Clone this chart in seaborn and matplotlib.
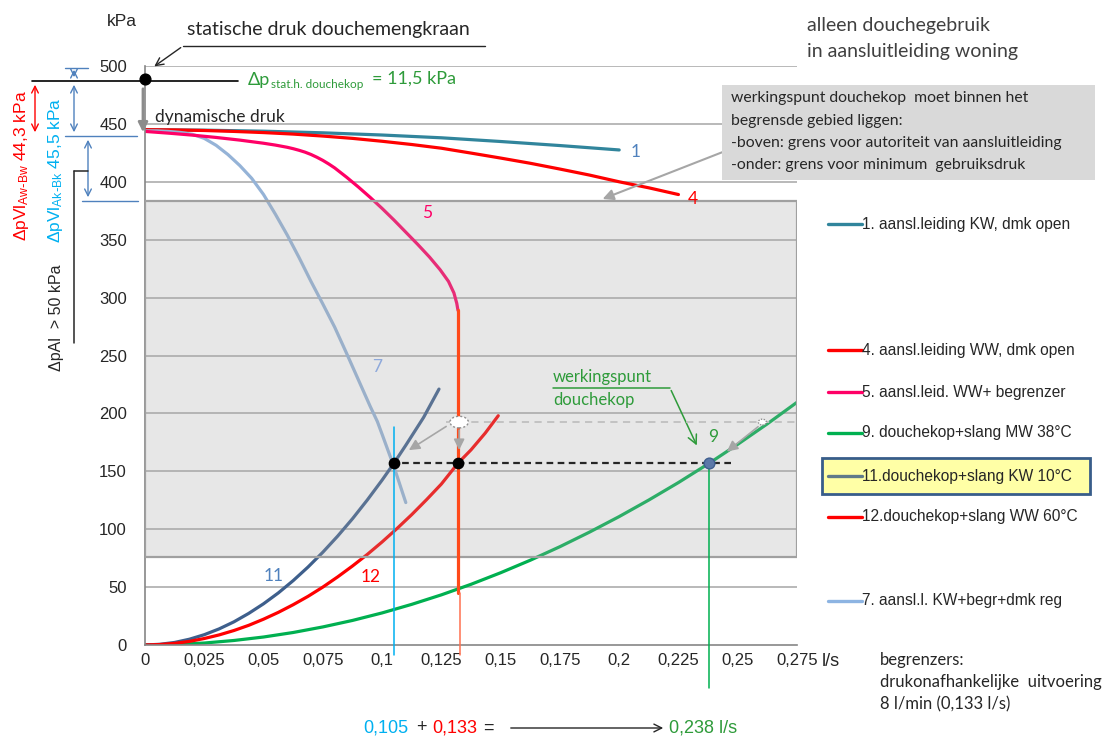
import matplotlib
matplotlib.use("Agg")
import matplotlib.pyplot as plt
from matplotlib.patches import Rectangle, Ellipse
from matplotlib.lines import Line2D
import seaborn as sns

# ---- curve readings: flow q in l/s, pressure p in kPa ----
q_kw_open = [0, 0.025, 0.05, 0.075, 0.1, 0.125, 0.15, 0.175, 0.2]
p_kw_open = [445, 444.6, 443.7, 442.3, 440.4, 438, 434.8, 431.3, 427.5]

q_ww_open = [0, 0.0125, 0.025, 0.0375, 0.05, 0.0625, 0.075, 0.0875, 0.1, 0.1125,
             0.125, 0.1375, 0.15, 0.1625, 0.175, 0.1875, 0.2, 0.2125, 0.225]
p_ww_open = [445, 444.8, 444.3, 443.5, 442.5, 441.2, 439.5, 437.5, 435, 432.2,
             429, 424.8, 420.5, 416, 411, 405.8, 400, 394.8, 389]

q_ww_begr = [0, 0.01, 0.02, 0.03, 0.04, 0.05, 0.055, 0.06, 0.0625, 0.065, 0.0675,
             0.07, 0.0725, 0.075, 0.0775, 0.08, 0.085, 0.09, 0.095, 0.1, 0.105,
             0.11, 0.115, 0.12, 0.1245, 0.128, 0.1303, 0.1315, 0.132]
p_ww_begr = [443.5, 442, 440.3, 438.3, 436, 433.3, 431.7, 429.8, 428.6, 427.2, 425.6,
             423.6, 421.2, 418.5, 415.4, 412, 404, 395.5, 386.5, 377, 367,
             356.5, 346, 335, 324, 314, 304, 295, 289]
q_begr_limit = [0.132, 0.132]
p_begr_limit = [289, 45]

q_kw_reg = [0, 0.005, 0.01, 0.015, 0.02, 0.025, 0.03, 0.035, 0.04, 0.045, 0.05,
            0.055, 0.06, 0.065, 0.07, 0.075, 0.08, 0.085, 0.09, 0.095, 0.098,
            0.1, 0.105, 0.11]
p_kw_reg = [444, 444, 443.5, 442.6, 441, 437.5, 431.5, 423.5, 414, 403, 389,
            372, 354, 334.5, 314, 294.5, 274.5, 252, 229, 206, 193,
            182, 154, 123]

q_mw38 = [0, 0.0125, 0.025, 0.0375, 0.05, 0.0625, 0.075, 0.0875, 0.1, 0.1125, 0.125,
          0.1375, 0.15, 0.1625, 0.175, 0.1875, 0.2, 0.2125, 0.225, 0.238, 0.25,
          0.2625, 0.275]
p_mw38 = [0, 0.4, 1.7, 3.9, 6.9, 10.8, 15.6, 21.2, 27.7, 35.1, 43.3,
          52.4, 62.4, 73.2, 84.9, 97.5, 110.9, 125.2, 140.3, 157, 173.3,
          191, 209.6]

q_kw10 = [0, 0.00625, 0.0125, 0.01875, 0.025, 0.03125, 0.0375, 0.04375, 0.05, 0.05625,
          0.0625, 0.06875, 0.075, 0.08125, 0.0875, 0.09375, 0.1, 0.105, 0.11, 0.1175,
          0.124]
p_kw10 = [0, 0.6, 2.2, 5, 8.9, 13.9, 20, 27.3, 35.6, 45,
          55.6, 67.3, 80.1, 94, 109, 125.2, 142.4, 157, 172.5, 196.5,
          221]

q_ww60 = [0, 0.00625, 0.0125, 0.01875, 0.025, 0.03125, 0.0375, 0.04375, 0.05, 0.05625,
          0.0625, 0.06875, 0.075, 0.08125, 0.0875, 0.09375, 0.1, 0.10625, 0.1125,
          0.11875, 0.125, 0.132, 0.1375, 0.1435, 0.149]
p_ww60 = [0, 0.4, 1.4, 3.1, 5.6, 8.7, 12.5, 17, 22.3, 28.2,
          34.8, 42, 50, 58.8, 68.2, 78.2, 89, 100.5, 112.6,
          125.5, 139, 157, 168.5, 183, 198]

# operating points and pressure levels
q_kw_point, q_ww_point, q_total = 0.105, 0.132, 0.238
p_point = 157
p_static = 488.5
p_upper_limit = 192.5
p_zone = (76, 383)

x_ticks = [0, 0.025, 0.05, 0.075, 0.1, 0.125, 0.15, 0.175, 0.2, 0.225, 0.25, 0.275]
x_labels = ["0", "0,025", "0,05", "0,075", "0,1", "0,125", "0,15", "0,175",
            "0,2", "0,225", "0,25", "0,275"]
y_ticks = list(range(0, 501, 50))

legend_items = [
    ("1. aansl.leiding KW, dmk open", "#31859C", 224),
    ("4. aansl.leiding WW, dmk open", "#FF0000", 350),
    ("5. aansl.leid. WW+ begrenzer", "#FF0066", 392),
    ("9. douchekop+slang MW 38°C", "#00B050", 433),
    ("11.douchekop+slang KW 10°C", "#5F7A8A", 476),
    ("12.douchekop+slang WW 60°C", "#FF0000", 517),
    ("7. aansl.l. KW+begr+dmk reg", "#8DB4E2", 601),
]

C_KW = "#31859C"
C_RED = "#FF0000"
C_PINK = "#FF0066"
C_GREEN = "#00B050"
C_SLATE = "#3E5F8C"
C_LBLUE = "#95B3D7"
C_CYAN = "#00B0F0"
C_STEEL = "#4F81BD"
C_TXTGREEN = "#2E9B3A"
C_ORANGE = "#FF4A1A"

sns.set_theme(style="white")
plt.rcParams["font.family"] = ["Liberation Sans", "DejaVu Sans"]
plt.rcParams["mathtext.default"] = "regular"
CAL = ["Lato", "DejaVu Sans"]

W, H = 1108, 740
fig = plt.figure(figsize=(W / 100, H / 100), dpi=100)
ax = fig.add_axes([145 / W, 1 - 645 / H, (797 - 145) / W, (645 - 66) / H])
ax.set_facecolor("white")


def fp(px, py):
    """pixel position (from top-left) -> figure fraction"""
    return px / W, 1 - py / H


ax.set_xlim(0, 0.275)
ax.set_ylim(0, 500)
for s in ["top", "right"]:
    ax.spines[s].set_visible(False)
for s in ["left", "bottom"]:
    ax.spines[s].set_color("#868686")
    ax.spines[s].set_linewidth(1.2)
ax.set_xticks(x_ticks)
ax.set_xticklabels(x_labels)
ax.set_yticks(y_ticks)
ax.tick_params(axis="x", direction="in", length=6, color="#868686", pad=6,
               labelsize=12, labelcolor="#262626")
ax.tick_params(axis="y", direction="out", length=6, color="#868686", pad=7,
               labelsize=12, labelcolor="#262626")
ax.set_xlabel("")
ax.set_ylabel("")

# horizontal grid
ax.hlines(y_ticks[1:], 0, 0.275, color="#A6A6A6", lw=1.1, zorder=0.5)

# curves
kw = dict(ax=ax, lw=2.3, legend=False, sort=False, estimator=None)
sns.lineplot(x=q_kw_open, y=p_kw_open, color=C_KW, zorder=2, **kw)
sns.lineplot(x=q_ww_open, y=p_ww_open, color=C_RED, zorder=2, **kw)
sns.lineplot(x=q_kw_reg, y=p_kw_reg, color=C_LBLUE, zorder=2, **kw)
sns.lineplot(x=q_ww_begr, y=p_ww_begr, color=C_PINK, zorder=2, **kw)
sns.lineplot(x=q_mw38, y=p_mw38, color=C_GREEN, zorder=2, **kw)
sns.lineplot(x=q_kw10, y=p_kw10, color=C_SLATE, zorder=2, **kw)
sns.lineplot(x=q_ww60, y=p_ww60, color=C_RED, zorder=2, **kw)

# permitted operating zone (translucent overlay)
ax.add_patch(Rectangle((0, p_zone[0]), 0.275, p_zone[1] - p_zone[0],
                       facecolor="#A8A8A8", alpha=0.27, edgecolor="none", zorder=3))
ax.add_patch(Rectangle((0, p_zone[0]), 0.275, p_zone[1] - p_zone[0],
                       facecolor="none", edgecolor="#A0A0A0", lw=1.6, zorder=3))

# limiter: constant flow section
sns.lineplot(x=q_begr_limit, y=p_begr_limit, color=C_ORANGE, zorder=4, **kw)

# vertical flow markers
ax.plot([q_kw_point] * 2, [188.5, -9], color=C_CYAN, lw=1.1, zorder=4, clip_on=False)
ax.plot([0.133] * 2, [p_begr_limit[1], -9], color="#FF7050", lw=1.1, zorder=4, clip_on=False)
ax.plot([q_total] * 2, [p_point, -37], color=C_GREEN, lw=1.1, zorder=4, clip_on=False)

# operating-pressure line and points
ax.plot([0.1037, 0.2487], [p_point] * 2, color="#262626", lw=1.6,
        ls=(0, (3, 2)), zorder=5)
ax.plot([0.127, 0.2753], [p_upper_limit] * 2, color="#C0C0C0", lw=1.3,
        ls=(0, (4, 3)), zorder=4)
ax.scatter([q_kw_point, q_ww_point], [p_point] * 2, s=55, color="black", zorder=6)
ax.scatter([q_total], [p_point], s=60, color="#5B78A8", edgecolor="#3F5F8F",
           lw=1, zorder=6)
ax.add_patch(Ellipse((0.1325, p_upper_limit), 0.0078, 10, facecolor="white",
                     edgecolor="#909090", ls=(0, (1.5, 1.5)), lw=1, zorder=7))
ax.add_patch(Ellipse((0.2604, p_upper_limit), 0.0034, 5, facecolor="white",
                     edgecolor="#909090", ls=(0, (1, 1)), lw=1, zorder=7))

arrow_gray = dict(arrowstyle="-|>", color="#A6A6A6", lw=1.2, mutation_scale=16)
ax.annotate("", xy=(0.1103, 167), xytext=(0.128, 190), arrowprops=arrow_gray, zorder=7)
ax.annotate("", xy=(0.1325, 166), xytext=(0.1325, 188), arrowprops=arrow_gray, zorder=7)
ax.annotate("", xy=(0.2445, 165.5), xytext=(0.2595, 190), arrowprops=arrow_gray, zorder=7)

# curve numbers
for txt, px, py, col in [("1", 636, 152, C_STEEL), ("4", 693, 199, C_RED),
                         ("5", 427, 213, C_PINK), ("7", 377, 367, "#8EA9DB"),
                         ("11", 274, 576, C_STEEL), ("12", 371, 577, C_RED),
                         ("9", 713, 437, C_TXTGREEN)]:
    fig.text(*fp(px, py), txt, color=col, fontsize=12.5, family=CAL,
             ha="center", va="center")

# werkingspunt annotation
fig.text(*fp(553, 377), "werkingspunt", color=C_TXTGREEN, fontsize=12, family=CAL,
         ha="left", va="center")
fig.text(*fp(553, 400), "douchekop", color=C_TXTGREEN, fontsize=12, family=CAL,
         ha="left", va="center")
fig.add_artist(Line2D([553 / W, 670 / W], [1 - 388 / H, 1 - 388 / H],
                      color=C_TXTGREEN, lw=1.1))
ax.annotate("", xy=fp(698, 448), xytext=fp(670, 388), xycoords="figure fraction",
            textcoords="figure fraction",
            arrowprops=dict(arrowstyle="->", color=C_TXTGREEN, lw=1.1,
                            mutation_scale=16))

# ---- top-left pressure annotations ----
fig.text(*fp(122, 22), "kPa", fontsize=12.5, color="#262626", ha="center", va="center")
fig.text(*fp(187, 30), "statische druk douchemengkraan", fontsize=14, family=CAL,
         color="#262626", ha="left", va="center")
fig.add_artist(Line2D([183 / W, 485 / W], [1 - 46 / H] * 2, color="#262626", lw=1))
ax.annotate("", xy=fp(152, 68), xytext=fp(183, 46), xycoords="figure fraction",
            textcoords="figure fraction",
            arrowprops=dict(arrowstyle="->", color="#262626", lw=1, mutation_scale=14))

fig.add_artist(Line2D([32 / W, 238 / W], [1 - 81 / H] * 2, color="black", lw=1.2))
ax.scatter([0], [p_static], s=60, color="black", zorder=8, clip_on=False)
ax.annotate("", xy=fp(143, 135), xytext=fp(143, 86), xycoords="figure fraction",
            textcoords="figure fraction",
            arrowprops=dict(arrowstyle="-|>", color="#8C8C8C", lw=2, mutation_scale=14))

fig.text(*fp(248, 80), "Δp", fontsize=13, family=CAL, color=C_TXTGREEN,
         ha="left", va="center")
fig.text(*fp(271, 84), "stat.h. douchekop", fontsize=8.5, family=CAL,
         color=C_TXTGREEN, ha="left", va="center")
fig.text(*fp(372, 79), "= 11,5 kPa", fontsize=13, family=CAL, color=C_TXTGREEN,
         ha="left", va="center")
fig.text(*fp(155, 117), "dynamische druk", fontsize=12.5, family=CAL,
         color="#262626", ha="left", va="center")

dbl = dict(arrowstyle="<->", lw=1, mutation_scale=12)
ax.annotate("", xy=fp(35, 135), xytext=fp(35, 82), xycoords="figure fraction",
            textcoords="figure fraction", arrowprops=dict(color=C_RED, **dbl))
ax.annotate("", xy=fp(74, 80), xytext=fp(74, 67), xycoords="figure fraction",
            textcoords="figure fraction", arrowprops=dict(color=C_STEEL, **dbl))
ax.annotate("", xy=fp(74, 135), xytext=fp(74, 82), xycoords="figure fraction",
            textcoords="figure fraction", arrowprops=dict(color=C_STEEL, **dbl))
ax.annotate("", xy=fp(88, 200), xytext=fp(88, 137), xycoords="figure fraction",
            textcoords="figure fraction", arrowprops=dict(color=C_STEEL, **dbl))
fig.add_artist(Line2D([65 / W, 88 / W], [1 - 68 / H] * 2, color=C_STEEL, lw=1))
fig.add_artist(Line2D([65 / W, 137 / W], [1 - 136 / H] * 2, color=C_STEEL, lw=1))
fig.add_artist(Line2D([82 / W, 138 / W], [1 - 201 / H] * 2, color=C_STEEL, lw=1))

fig.text(*fp(22, 166), r"ΔpVl$_{Aw\text{-}Bw}$ 44,3 kPa", fontsize=12.5, color=C_RED,
         rotation=90, ha="center", va="center")
fig.text(*fp(56, 170), r"ΔpVl$_{Ak\text{-}Bk}$ 45,5 kPa", fontsize=12.5, color=C_CYAN,
         rotation=90, ha="center", va="center")
fig.text(*fp(57, 318), "ΔpAl  > 50 kPa", fontsize=11.5, color="#262626",
         rotation=90, ha="center", va="center")
fig.add_artist(Line2D([74 / W, 74 / W], [1 - 171 / H, 1 - 343 / H], color="#262626", lw=1.1))
fig.add_artist(Line2D([74 / W, 88 / W], [1 - 171 / H] * 2, color="#262626", lw=1.1))

# ---- top-right notes ----
fig.text(*fp(807, 25), "alleen douchegebruik", fontsize=14, family=CAL,
         color="#404040", ha="left", va="center")
fig.text(*fp(807, 52), "in aansluitleiding woning", fontsize=14, family=CAL,
         color="#404040", ha="left", va="center")
fig.add_artist(Rectangle(fp(722, 180), (1095 - 722) / W, (180 - 85) / H,
                         transform=fig.transFigure, facecolor="#D9D9D9",
                         edgecolor="none", zorder=5))
for i, line in enumerate(["werkingspunt douchekop  moet binnen het",
                          "begrensde gebied liggen:",
                          "-boven: grens voor autoriteit van aansluitleiding",
                          "-onder: grens voor minimum  gebruiksdruk"]):
    fig.text(*fp(731, 98 + i * 22.5), line, fontsize=11.3, family=CAL,
             color="#262626", ha="left", va="center", zorder=6)
ax.annotate("", xy=fp(600, 200), xytext=fp(733, 148), xycoords="figure fraction",
            textcoords="figure fraction",
            arrowprops=dict(arrowstyle="-|>", color="#A6A6A6", lw=1.5,
                            mutation_scale=16))

# ---- legend ----
fig.add_artist(Rectangle(fp(822, 494), (1090 - 822) / W, (494 - 458) / H,
                         transform=fig.transFigure, facecolor="#FFFFA6",
                         edgecolor="#385D8A", lw=2, zorder=4))
for label, col, py in legend_items:
    fig.add_artist(Line2D([828 / W, 862 / W], [1 - py / H] * 2, color=col, lw=2.4,
                          zorder=6))
    fig.text(*fp(862, py), label, fontsize=11.2, color="#262626", ha="left",
             va="center", zorder=6)

# ---- bottom notes ----
fig.text(*fp(822, 662), "l/s", fontsize=13, color="#262626", ha="left", va="center")
for i, line in enumerate(["begrenzers:", "drukonafhankelijke  uitvoering",
                          "8 l/min (0,133 l/s)"]):
    fig.text(*fp(880, 660 + i * 22), line, fontsize=12, family=CAL,
             color="#262626", ha="left", va="center")

fig.text(*fp(363, 728), "0,105", fontsize=13, color=C_CYAN, ha="left", va="center")
fig.text(*fp(416, 728), "+", fontsize=13, color="#262626", ha="left", va="center")
fig.text(*fp(432, 728), "0,133", fontsize=13, color=C_RED, ha="left", va="center")
fig.text(*fp(483, 728), "=", fontsize=13, color="#262626", ha="left", va="center")
ax.annotate("", xy=fp(666, 728), xytext=fp(508, 728), xycoords="figure fraction",
            textcoords="figure fraction",
            arrowprops=dict(arrowstyle="->", color="#262626", lw=1, mutation_scale=14))
fig.text(*fp(669, 728), "0,238 l/s", fontsize=13, color=C_TXTGREEN, ha="left",
         va="center")

fig.savefig("out.png", dpi=100)
